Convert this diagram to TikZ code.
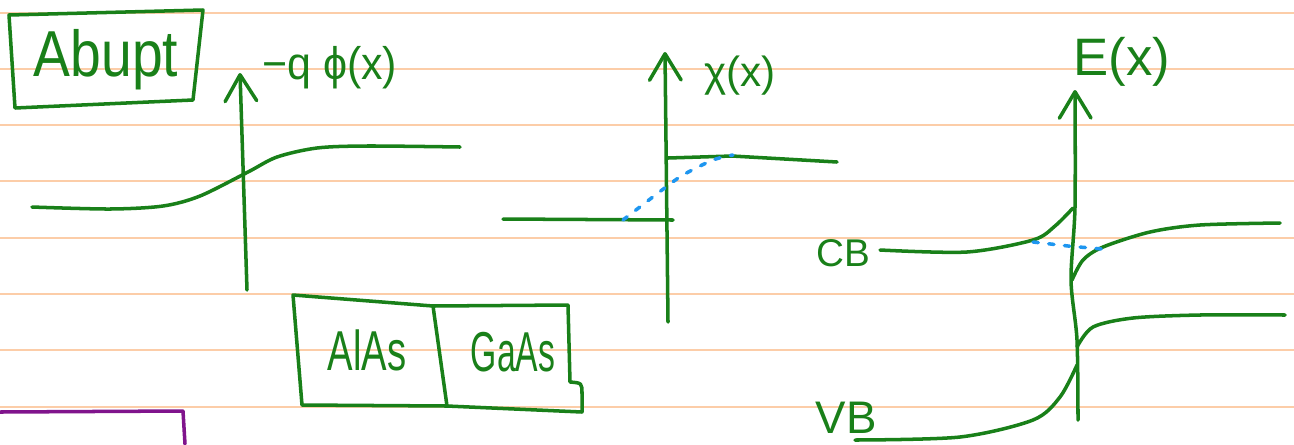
\documentclass[tikz,border=0pt]{standalone}
\usepackage{fontspec}
\setmainfont{Liberation Sans}
\usetikzlibrary{arrows.meta}

\definecolor{pen}{RGB}{25,128,25}
\definecolor{dashblue}{RGB}{30,150,240}
\definecolor{ruling}{RGB}{252,205,168}
\definecolor{purplepen}{RGB}{128,20,140}

\tikzset{
  ink/.style={pen, line width=2pt, line cap=round, line join=round},
  axis/.style={ink, -{Straight Barb[length=15pt,width=18pt,round]}},
  level/.style={dashblue, line width=2pt, line cap=round, dash pattern=on 3pt off 6pt},
  hand/.style={pen, inner sep=0pt},
}

\begin{document}
\begin{tikzpicture}[x=0.02cm, y=-0.02cm]
  \useasboundingbox (0,0) rectangle (1294,444);

  % Ruled paper
  \foreach \yy in {13,69,125,181,238,294,350,407}
    \draw[ruling, line width=0.6pt] (0,\yy) -- (1294,\yy);

  % Title box
  \node[hand, font=\fontsize{37}{40}\selectfont, xscale=0.85] (abupt) at (106,60) {Abupt};
  \draw[ink] (9,15) -- (203,10) -- (193,100) -- (15,108) -- cycle;

  % Potential -q phi(x)
  \coordinate (phibot) at (247,290);
  \coordinate (phitop) at (240,73);
  \draw[axis] (phibot) -- (phitop);
  \node[hand, font=\fontsize{26}{28}\selectfont, anchor=west, xscale=0.94] (philab) at (262,68) {−q ϕ(x)};
  \draw[ink] plot[smooth] coordinates {(32,207) (110,209) (163,206) (200,196) (248,172)
    (277,157) (317,148) (367,146) (460,147)};

  % Materials
  \node[hand, font=\fontsize{32}{34}\selectfont, xscale=0.68] (alas) at (367,350) {AlAs};
  \node[hand, font=\fontsize{32}{34}\selectfont, xscale=0.6] (gaas) at (513,352) {GaAs};
  \draw[ink] (293,295) -- (433,306) -- (568,305) -- (570,382)
    .. controls (582,383) .. (582,394) -- (582,412) -- (447,406) -- (302,405) -- cycle;
  \draw[ink] (433,306) -- (447,406);

  % Electron affinity chi(x)
  \coordinate (chibot) at (668,322);
  \coordinate (chitop) at (665,52);
  \draw[axis] (chibot) -- (chitop);
  \node[hand, font=\fontsize{24}{26}\selectfont] (chilab) at (740,76) {χ(x)};
  \draw[ink] (503,219) -- (673,220);
  \draw[ink] (668,158) -- (732,156) -- (837,162);
  \draw[level] plot[smooth] coordinates {(623,220) (645,203) (662,190) (683,175) (713,160) (733,155)};

  % Band diagram E(x)
  \coordinate (ebot) at (1078,420);
  \coordinate (etop) at (1075,90);
  \draw[axis] plot[smooth] coordinates {(ebot) (1077,340) (1071,280) (1075,207) (etop)};
  \node[hand, font=\fontsize{30}{32}\selectfont] (elab) at (1122,62) {E(x)};
  \node[hand, font=\fontsize{22}{24}\selectfont] (cb) at (843,253) {CB};
  \node[hand, font=\fontsize{26}{28}\selectfont] (vb) at (846,418) {VB};
  \draw[ink] plot[smooth] coordinates {(880,250) (967,252) (1033,240) (1055,226) (1073,208)};
  \draw[ink] plot[smooth] coordinates {(1072,280) (1083,260) (1103,247) (1150,232) (1200,225) (1280,223)};
  \draw[ink] plot[smooth] coordinates {(1077,347) (1093,327) (1133,318) (1200,315) (1285,315)};
  \draw[ink] plot[smooth] coordinates {(855,440) (960,437) (1033,420) (1060,397) (1077,365)};
  \draw[level] (1033,242) -- (1068,246) -- (1102,249);

  % Next box (cut off)
  \draw[ink, purplepen] (0,412) -- (183,411) -- (185,444);
\end{tikzpicture}
\end{document}
